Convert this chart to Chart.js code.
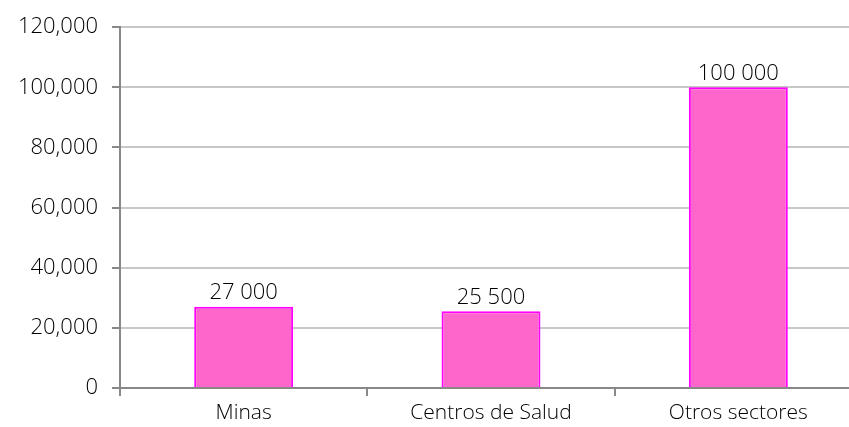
<!DOCTYPE html>
<html lang="es">
<head>
    <meta charset="UTF-8">
    <title>Sectores</title>
    <style>
        body {
            margin: 0;
            background: #fff;
            overflow: hidden;
        }
        .wrap {
            width: 862px;
            height: 427px;
        }
    </style>
</head>
<body>

<div class="wrap">
    <canvas id="chart" width="862" height="427"></canvas>
</div>

<script src="https://cdn.jsdelivr.net/npm/chart.js"></script>
<script>
    const categories = ['Minas', 'Centros de Salud', 'Otros sectores'];
    const values = [27000, 25500, 100000];
    const yTicks = [0, 20000, 40000, 60000, 80000, 100000, 120000];

    const fontFamily = "'Open Sans', sans-serif";

    // writes the value over each bar, "27 000" style
    const barLabels = {
        id: 'barLabels',
        afterDatasetsDraw(chart) {
            const ctx = chart.ctx;
            const meta = chart.getDatasetMeta(0);
            ctx.save();
            ctx.font = '300 22px ' + fontFamily;
            ctx.fillStyle = '#000';
            ctx.textAlign = 'center';
            ctx.textBaseline = 'bottom';
            meta.data.forEach((bar, i) => {
                const txt = values[i].toLocaleString('en-US').replace(/,/g, ' ');
                ctx.fillText(txt, bar.x, bar.y - 3);
            });
            ctx.restore();
        }
    };

    new Chart(document.getElementById('chart'), {
        type: 'bar',
        data: {
            labels: categories,
            datasets: [{
                data: values,
                backgroundColor: '#FF66CC',
                borderColor: '#FF00FF',
                borderWidth: 2,
                categoryPercentage: 1,
                barPercentage: 0.4
            }]
        },
        options: {
            responsive: false,
            animation: false,
            layout: { padding: { top: 24, right: 0, left: 0, bottom: 0 } },
            plugins: {
                legend: { display: false },
                tooltip: { enabled: false }
            },
            scales: {
                x: {
                    afterFit(scale) { scale.height = 39; },
                    grid: {
                        offset: true,
                        drawOnChartArea: false,
                        drawTicks: true,
                        tickLength: 8,
                        color: '#888',
                        lineWidth: 2
                    },
                    border: { color: '#888', width: 2 },
                    ticks: {
                        color: '#000',
                        padding: 4,
                        font: { family: fontFamily, size: 21, weight: 300 }
                    }
                },
                y: {
                    min: 0,
                    max: 120000,
                    afterFit(scale) { scale.width = 120; },
                    afterBuildTicks(scale) {
                        scale.ticks = yTicks.map(v => ({ value: v }));
                    },
                    grid: {
                        color: '#c8c8c8',
                        lineWidth: 2,
                        tickLength: 8,
                        tickColor: '#888'
                    },
                    border: { color: '#888', width: 2 },
                    ticks: {
                        color: '#000',
                        padding: 14,
                        font: { family: fontFamily, size: 22, weight: 300 },
                        callback: v => v.toLocaleString('en-US')
                    }
                }
            }
        },
        plugins: [barLabels]
    });
</script>

</body>
</html>
